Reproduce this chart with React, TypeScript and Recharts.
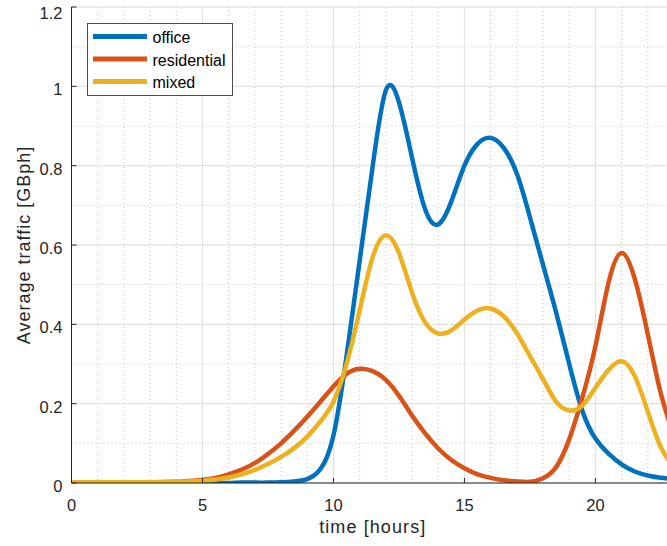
import React from 'react';
import { LineChart, Line, XAxis, YAxis, CartesianGrid, Legend, Label } from 'recharts';

const hours = [
  0, 0.5, 1, 1.5, 2, 2.5, 3, 3.5, 4, 4.5, 5, 5.5, 6, 6.5, 7, 7.5, 8, 8.5, 9, 9.5, 10, 10.5, 11, 11.5,
  12, 12.5, 13, 13.5, 14, 14.5, 15, 15.5, 16, 16.5, 17, 17.5, 18, 18.5, 19, 19.5, 20, 20.5, 21, 21.5,
  22, 22.5, 23,
];

const office = [
  0, 0, 0, 0, 0, 0, 0, 0, 0, 0, 0, 0, 0, 0.001, 0.001, 0.001, 0.002, 0.004, 0.01, 0.035, 0.12, 0.32,
  0.56, 0.8, 0.99, 0.96, 0.82, 0.69, 0.652, 0.71, 0.8, 0.855, 0.87, 0.845, 0.78, 0.67, 0.55, 0.43,
  0.3, 0.182, 0.112, 0.074, 0.047, 0.029, 0.019, 0.013, 0.01,
];

const residential = [
  0.001, 0.001, 0.001, 0.001, 0.001, 0.001, 0.002, 0.002, 0.003, 0.005, 0.008, 0.013, 0.022, 0.034,
  0.05, 0.073, 0.1, 0.132, 0.167, 0.205, 0.243, 0.275, 0.288, 0.282, 0.26, 0.22, 0.17, 0.125, 0.087,
  0.058, 0.037, 0.022, 0.013, 0.007, 0.004, 0.003, 0.012, 0.04, 0.11, 0.215, 0.345, 0.505, 0.58,
  0.515, 0.375, 0.225, 0.12,
];

const mixed = [
  0.002, 0.002, 0.002, 0.002, 0.002, 0.002, 0.002, 0.003, 0.003, 0.004, 0.006, 0.009, 0.014, 0.022,
  0.033, 0.048, 0.066, 0.088, 0.117, 0.155, 0.205, 0.3, 0.435, 0.57, 0.624, 0.58, 0.48, 0.405, 0.377,
  0.385, 0.412, 0.435, 0.44, 0.42, 0.378, 0.32, 0.262, 0.205, 0.183, 0.195, 0.24, 0.285, 0.307, 0.27,
  0.18, 0.09, 0.04,
];

const xTicks = [0, 5, 10, 15, 20];
const yTicks = [0, 0.2, 0.4, 0.6, 0.8, 1, 1.2];

// minor grid: every hour, every 0.05
const minorX = Array.from({ length: 24 }, (_, i) => i);
const minorY = Array.from({ length: 25 }, (_, i) => Math.round(i * 5) / 100);

const series = [
  { key: 'office', name: 'office', color: '#0072BD' },
  { key: 'residential', name: 'residential', color: '#D95319' },
  { key: 'mixed', name: 'mixed', color: '#EDB120' },
];

const data = hours.map((t, i) => ({
  t,
  office: office[i],
  residential: residential[i],
  mixed: mixed[i],
}));

const AXIS = '#262626';
const FONT = '"Liberation Sans", Arial, sans-serif';

function LegendBox() {
  return (
    <svg width={146} height={73} style={{ display: 'block' }}>
      <rect x={0.5} y={0.5} width={145} height={72} fill="#fff" stroke="#4d4d4d" strokeWidth={1} />
      {series.map((s, i) => {
        const cy = 13.5 + i * 22.5;
        return (
          <g key={s.key}>
            <line x1={6} x2={60} y1={cy} y2={cy} stroke={s.color} strokeWidth={5} />
            <text x={65.5} y={cy + 6.5} fontFamily={FONT} fontSize={16} fill="#000">
              {s.name}
            </text>
          </g>
        );
      })}
    </svg>
  );
}

export default function App() {
  return (
    <div style={{ position: 'absolute', left: 0, top: 0, width: 667, height: 546, overflow: 'hidden', background: '#fff' }}>
      <LineChart width={680} height={546} data={data} margin={{ top: 7, right: 6, bottom: 0, left: 0 }}>
        <CartesianGrid
          verticalValues={minorX}
          horizontalValues={minorY}
          stroke="#c4c4c4"
          strokeDasharray="1 3"
        />
        <CartesianGrid stroke="#e0e0e0" />
        <XAxis
          dataKey="t"
          type="number"
          domain={[0, 23]}
          ticks={xTicks}
          height={63}
          stroke={AXIS}
          tickSize={-5}
          tickMargin={21}
          tick={{ fill: AXIS, fontSize: 16.5, fontFamily: FONT }}
          allowDataOverflow
        >
          <Label
            content={({ viewBox }: any) => (
              <text
                x={viewBox.x + viewBox.width / 2}
                y={533}
                textAnchor="middle"
                fontFamily={FONT}
                fontSize={18}
                letterSpacing={1.1}
                fill={AXIS}
              >
                time [hours]
              </text>
            )}
          />
        </XAxis>
        <YAxis
          type="number"
          domain={[0, 1.2]}
          ticks={yTicks}
          width={71.5}
          stroke={AXIS}
          tickSize={-5}
          tickMargin={14}
          tick={{ fill: AXIS, fontSize: 16.5, fontFamily: FONT, dy: 3 }}
          allowDataOverflow
        >
          <Label
            content={({ viewBox }: any) => {
              const x = 30;
              const y = viewBox.y + viewBox.height / 2;
              return (
                <text
                  x={x}
                  y={y}
                  transform={`rotate(-90 ${x} ${y})`}
                  textAnchor="middle"
                  fontFamily={FONT}
                  fontSize={18}
                  letterSpacing={1}
                  fill={AXIS}
                >
                  Average traffic [GBph]
                </text>
              );
            }}
          />
        </YAxis>
        <Legend
          layout="vertical"
          align="center"
          verticalAlign="middle"
          wrapperStyle={{ left: 87, top: 23, width: 146, height: 73 }}
          content={() => <LegendBox />}
        />
        {series.map((s) => (
          <Line
            key={s.key}
            type="natural"
            dataKey={s.key}
            name={s.name}
            stroke={s.color}
            strokeWidth={4.5}
            dot={false}
            activeDot={false}
            isAnimationActive={false}
          />
        ))}
      </LineChart>
    </div>
  );
}
